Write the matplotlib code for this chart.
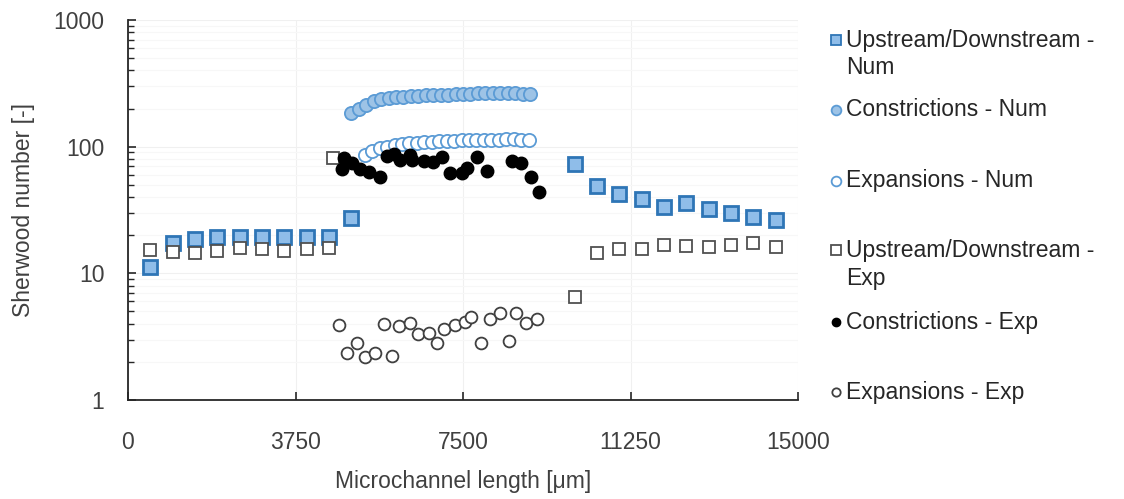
import matplotlib
matplotlib.use("Agg")
import matplotlib.pyplot as plt
from matplotlib.lines import Line2D
from matplotlib.ticker import LogLocator, NullFormatter, FixedLocator

plt.rcParams['font.family'] = ['Liberation Sans', 'DejaVu Sans']

# ---------------- data ----------------
ud_num_x = [500, 1000, 1500, 2000, 2500, 3000, 3500, 4000, 4500, 5000,
            10000, 10500, 11000, 11500, 12000, 12500, 13000, 13500, 14000, 14500]
ud_num_y = [11.3, 17.3, 18.5, 19.2, 19.4, 19.4, 19.4, 19.4, 19.4, 27.5,
            72.9, 49.1, 42.3, 38.8, 33.6, 35.7, 32.0, 29.8, 28.0, 26.4]

con_num_x = [5000, 5167, 5333, 5500, 5667, 5833, 6000, 6167, 6333, 6500, 6667, 6833,
             7000, 7167, 7333, 7500, 7667, 7833, 8000, 8167, 8333, 8500, 8667, 8833, 9000]
con_num_y = [183, 200, 215, 228, 238, 243, 245, 248, 250, 252, 255, 257,
             258, 258, 260, 262, 262, 263, 263, 265, 265, 265, 263, 262, 260]

exp_num_x = [5300, 5467, 5633, 5800, 5967, 6133, 6300, 6467, 6633, 6800, 6967, 7133,
             7300, 7467, 7633, 7800, 7967, 8133, 8300, 8467, 8633, 8800, 8967]
exp_num_y = [86, 92, 97, 100, 103, 105, 106, 107, 108, 109, 110, 110,
             111, 112, 112, 112, 113, 113, 113, 114, 114, 113, 113]

ud_exp_x = [500, 1000, 1500, 2000, 2500, 3000, 3500, 4000, 4500, 4600,
            10000, 10500, 11000, 11500, 12000, 12500, 13000, 13500, 14000, 14500]
ud_exp_y = [15.3, 14.8, 14.4, 15.1, 15.8, 15.5, 15.1, 15.5, 15.8, 80.8,
            6.5, 14.4, 15.7, 15.6, 16.6, 16.4, 16.0, 16.6, 17.3, 16.2]

con_exp_x = [4827, 4791, 5016, 5202, 5388, 5650, 5800, 5948, 6099, 6323, 6361, 6637,
             6832, 7034, 7220, 7482, 7594, 7803, 8027, 8603, 8805, 9013, 9200]
con_exp_y = [80.8, 66.2, 73.8, 66.2, 63.4, 57.8, 84.3, 87.5, 78.4, 85.9, 78.4, 77.4,
             76.0, 83.3, 61.5, 62.2, 67.4, 83.3, 64.5, 77.4, 73.8, 57.8, 44.0]

exp_exp_x = [4715, 4903, 5127, 5314, 5538, 5724, 5912, 6076, 6307, 6496, 6733, 6922,
             7085, 7332, 7534, 7684, 7908, 8094, 8325, 8527, 8693, 8917, 9148]
exp_exp_y = [3.91, 2.36, 2.80, 2.20, 2.36, 3.98, 2.24, 3.86, 4.03, 3.30, 3.36, 2.83,
             3.61, 3.91, 4.15, 4.50, 2.80, 4.34, 4.89, 2.94, 4.89, 4.07, 4.34]

x_ticks = [0, 3750, 7500, 11250, 15000]
y_ticks = [1, 10, 100, 1000]
y_tick_labels = ['1', '10', '100', '1000']

labels = [
    "Upstream/Downstream -\nNum",
    "Constrictions - Num",
    "Expansions - Num",
    "Upstream/Downstream -\nExp",
    "Constrictions - Exp",
    "Expansions - Exp",
]

# ---------------- styles ----------------
TXT = '#404040'
FS = 16.5
styles = [
    dict(marker='s', ms=9.5, mfc='#8fbde9', mec='#2e75b6', mew=2.0),
    dict(marker='o', ms=9.5, mfc='#9dc3e6', mec='#5b9bd5', mew=1.3),
    dict(marker='o', ms=9.5, mfc='white', mec='#5b9bd5', mew=1.3),
    dict(marker='s', ms=9.0, mfc='white', mec='#505050', mew=1.3),
    dict(marker='o', ms=9.0, mfc='black', mec='black', mew=1.0),
    dict(marker='o', ms=8.5, mfc='white', mec='#404040', mew=1.3),
]
series = [
    (ud_num_x, ud_num_y),
    (con_num_x, con_num_y),
    (exp_num_x, exp_num_y),
    (ud_exp_x, ud_exp_y),
    (con_exp_x, con_exp_y),
    (exp_exp_x, exp_exp_y),
]

W, H = 1124, 499
fig = plt.figure(figsize=(W / 100, H / 100), dpi=100)
ax = fig.add_axes([128 / W, 1 - 400 / H, (798 - 128) / W, (400 - 20) / H])

order = [3, 5, 4, 0, 1, 2]
for i in order:
    x, y = series[i]
    ax.plot(x, y, ls='none', zorder=3 + i * 0.1, **styles[i])

ax.set_yscale('log')
ax.set_xlim(0, 15000)
ax.set_ylim(1, 1000)
ax.xaxis.set_major_locator(FixedLocator(x_ticks))
ax.set_xticklabels([str(v) for v in x_ticks])
ax.yaxis.set_major_locator(FixedLocator(y_ticks))
ax.set_yticklabels(y_tick_labels)
ax.yaxis.set_minor_locator(LogLocator(base=10, subs=range(2, 10)))
ax.yaxis.set_minor_formatter(NullFormatter())

for s in ['top', 'right']:
    ax.spines[s].set_visible(False)
for s in ['left', 'bottom']:
    ax.spines[s].set_color('#262626')
    ax.spines[s].set_linewidth(1.3)

ax.tick_params(axis='both', which='major', direction='in', length=6, width=1.2,
               color='#262626', labelsize=FS, labelcolor=TXT)
ax.tick_params(axis='y', which='minor', direction='in', length=4, width=1.0, color='#262626')
ax.tick_params(axis='x', pad=22)
ax.tick_params(axis='y', pad=17)

ax.grid(True, which='major', color='#f0f0f0', lw=0.8, zorder=0)
ax.grid(True, which='minor', axis='y', color='#f7f7f7', lw=0.8, zorder=0)
ax.set_axisbelow(True)

ax.set_xlabel('Microchannel length [μm]', fontsize=FS, color=TXT, labelpad=12)
ax.set_ylabel('Sherwood number [-]', fontsize=FS, color=TXT, labelpad=13)

# ---------------- legend (manual) ----------------
entry_y = [40, 110, 181, 250, 322, 392]
line_h = 28
mk_x = 836
txt_x = 846
leg_ms = [7, 7, 7, 7, 6, 6]
for i, lab in enumerate(labels):
    yy = entry_y[i]
    st = dict(styles[i])
    st['ms'] = leg_ms[i]
    st['mew'] = min(st['mew'], 1.3)
    fig.add_artist(Line2D([mk_x / W], [1 - yy / H], transform=fig.transFigure, ls='none', **st))
    for j, part in enumerate(lab.split('\n')):
        fig.text(txt_x / W, 1 - (yy + j * line_h) / H, part, fontsize=FS, color='#262626',
                 ha='left', va='center')

fig.savefig('out.png', dpi=100)
